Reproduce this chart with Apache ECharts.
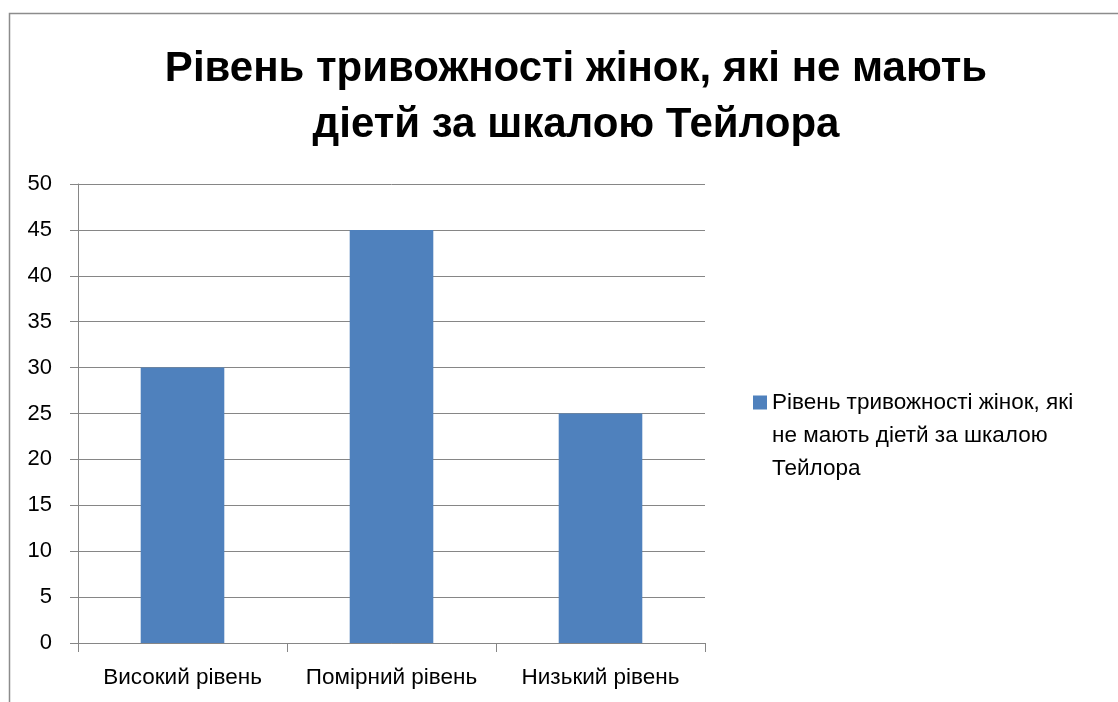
<!DOCTYPE html>
<html>
<head>
<meta charset="utf-8">
<script src="https://cdn.jsdelivr.net/npm/echarts@6/dist/echarts.min.js"></script>
<style>html,body{margin:0;padding:0;background:#fff;}#c{width:1118px;height:702px;}</style>
</head>
<body>
<div id="c"></div>
<script>
const titleText = 'Рівень тривожності жінок, які не мають\nдіетй за шкалою Тейлора';
const categories = ['Високий рівень', 'Помірний рівень', 'Низький рівень'];
const seriesName = 'Рівень тривожності жінок, які не мають діетй за шкалою Тейлора';
const legendLines = ['Рівень тривожності жінок, які', 'не мають діетй за шкалою', 'Тейлора'];
const values = [30, 45, 25];
const yMin = 0, yMax = 50, yStep = 5;

const FONT = '"Liberation Sans", "DejaVu Sans", sans-serif';
const chart = echarts.init(document.getElementById('c'));
chart.setOption({
  animation: false,
  backgroundColor: '#fff',
  textStyle: { fontFamily: FONT },
  title: {
    text: titleText,
    left: 571, top: 36, textAlign: 'center',
    textStyle: { fontFamily: FONT, fontWeight: 'bold', fontSize: 42, lineHeight: 56, color: '#000' }
  },
  graphic: [{
    type: 'rect', shape: { x: 9.5, y: 13.5, width: 1200, height: 800 },
    style: { fill: 'none', stroke: '#8c8c8c', lineWidth: 1.5 }, silent: true, z: -1
  }],
  legend: {
    left: 748, top: 381, orient: 'vertical',
    itemWidth: 14, itemHeight: 80, itemGap: 0,
    icon: 'path://M0,0L14,0L14,14L0,14ZM14,80L14,80',
    formatter: () => legendLines.join('\n'),
    textStyle: { fontFamily: FONT, fontSize: 22.5, lineHeight: 33, color: '#000' },
    data: [seriesName]
  },
  grid: { left: 78, right: 413, top: 184, bottom: 59 },
  xAxis: {
    type: 'category', data: categories,
    axisLine: { lineStyle: { color: '#868686', width: 1 } },
    axisTick: { show: true, interval: 0, length: 9, lineStyle: { color: '#868686' } },
    axisLabel: { interval: 0, hideOverlap: false, color: '#000', fontSize: 22.5, fontFamily: FONT, margin: 23 }
  },
  yAxis: {
    type: 'value', min: yMin, max: yMax, interval: yStep,
    axisLine: { show: true, lineStyle: { color: '#868686', width: 1 } },
    axisTick: { show: true, length: 8, lineStyle: { color: '#868686' } },
    splitLine: { lineStyle: { color: '#868686', width: 1 } },
    axisLabel: { color: '#000', fontSize: 22, fontFamily: FONT, margin: 26 }
  },
  series: [{
    name: seriesName, type: 'bar', data: values,
    barCategoryGap: '60%',
    itemStyle: { color: '#4F81BD' }
  }]
});
</script>
</body>
</html>
